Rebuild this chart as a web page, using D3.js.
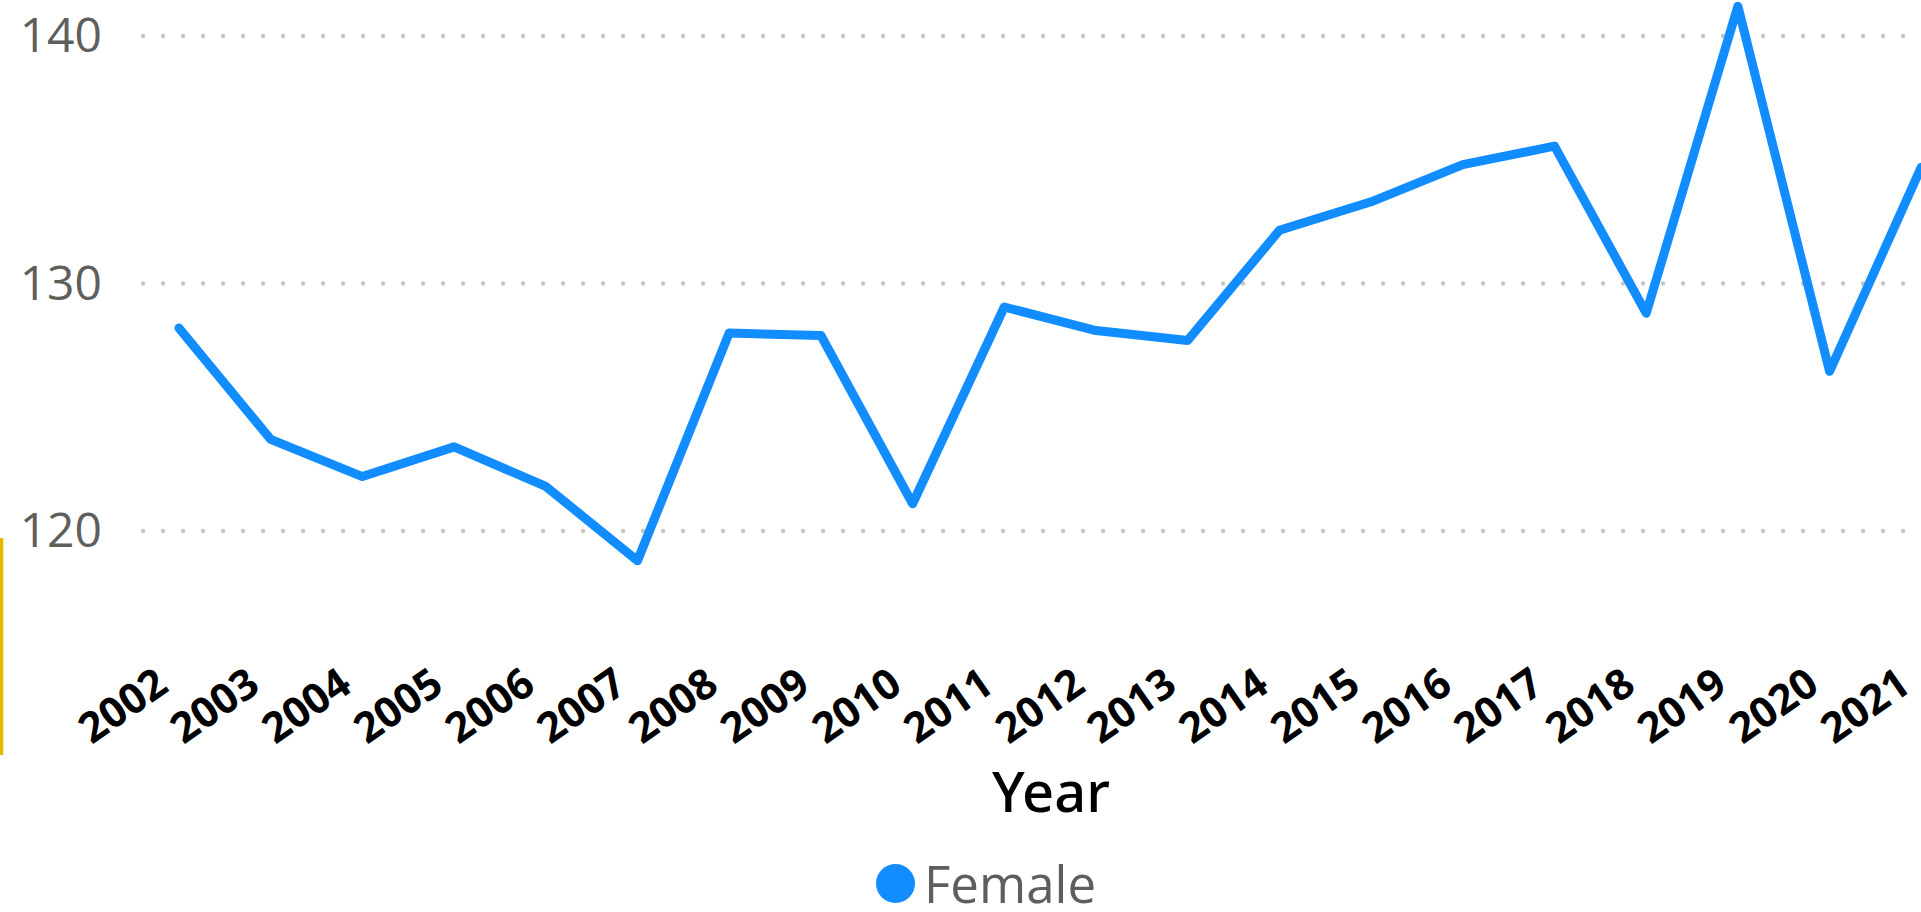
<!DOCTYPE html>
<html>
<head>
<meta charset="utf-8">
<script src="https://cdn.jsdelivr.net/npm/d3@7"></script>
<style>
  html, body { margin: 0; padding: 0; background: #fff; overflow: hidden; }
  svg { display: block; font-family: "Segoe UI", "Open Sans", sans-serif; }
</style>
</head>
<body>
<div id="chart"></div>
<script>
// data
const years = [2002, 2003, 2004, 2005, 2006, 2007, 2008, 2009, 2010, 2011,
  2012, 2013, 2014, 2015, 2016, 2017, 2018, 2019, 2020, 2021];
const female = [128.2, 123.7, 122.2, 123.4, 121.8, 118.8, 128.0, 127.9, 121.1, 129.05,
  128.1, 127.7, 132.15, 133.3, 134.8, 135.55, 128.8, 141.2, 126.45, 134.7];
const yTicks = [120, 130, 140];
const seriesName = "Female";
const xTitle = "Year";

const W = 1921, H = 912;
const blue = "#118DFF";

const svg = d3
  .select("#chart")
  .append("svg")
  .attr("width", W)
  .attr("height", H);

// scales
const x = d3.scalePoint().domain(years).range([179, 1921.3]).padding(0);
const y = d3.scaleLinear().domain([115, 142]).range([654.75, -13.5]);

// left yellow marker
svg
  .append("rect")
  .attr("x", 0)
  .attr("y", 538)
  .attr("width", 3.3)
  .attr("height", 217)
  .attr("fill", "#E6B800");

// dotted gridlines
svg
  .append("g")
  .selectAll("line")
  .data(yTicks)
  .join("line")
  .attr("x1", 143)
  .attr("x2", 1906)
  .attr("y1", (d) => y(d))
  .attr("y2", (d) => y(d))
  .attr("stroke", "#C8C6C4")
  .attr("stroke-width", 4.5)
  .attr("stroke-linecap", "round")
  .attr("stroke-dasharray", "0 20");

// y axis labels
const yAxis = svg
  .append("g")
  .attr("transform", "translate(102,0)")
  .call(d3.axisLeft(y).tickValues(yTicks).tickSize(0).tickPadding(0));
yAxis.select(".domain").remove();
yAxis
  .selectAll("text")
  .attr("x", 0)
  .attr("dy", "0")
  .attr("y", 15.5)
  .attr("fill", "#605E5C")
  .attr("font-size", 48)
  .attr("font-family", '"Segoe UI", "Open Sans", sans-serif');

// x axis labels
const xAxis = svg
  .append("g")
  .attr("transform", "translate(0,690)")
  .call(d3.axisBottom(x).tickSize(0).tickPadding(0));
xAxis.select(".domain").remove();
xAxis
  .selectAll("text")
  .attr("x", 0)
  .attr("y", 0)
  .attr("dy", "0")
  .attr("text-anchor", "end")
  .attr("transform", "translate(-9,0) rotate(-35)")
  .attr("fill", "#000")
  .attr("font-weight", "bold")
  .attr("font-size", 42)
  .attr("font-family", '"Segoe UI", "Open Sans", sans-serif');

// axis title
svg
  .append("text")
  .attr("x", 1051)
  .attr("y", 811.5)
  .attr("text-anchor", "middle")
  .attr("fill", "#000")
  .attr("font-family", '"Noto Sans", "Open Sans", sans-serif')
  .attr("font-weight", 500)
  .attr("font-size", 56)
  .text(xTitle);

// line
const line = d3
  .line()
  .x((d, i) => x(years[i]))
  .y((d) => y(d));

svg
  .append("path")
  .datum(female)
  .attr("d", line)
  .attr("fill", "none")
  .attr("stroke", blue)
  .attr("stroke-width", 9)
  .attr("stroke-linejoin", "round")
  .attr("stroke-linecap", "round");

// legend
const legend = svg.append("g");
legend
  .append("circle")
  .attr("cx", 895.5)
  .attr("cy", 883.5)
  .attr("r", 19.5)
  .attr("fill", blue);
legend
  .append("text")
  .attr("x", 924)
  .attr("y", 903)
  .attr("fill", "#605E5C")
  .attr("font-size", 51)
  .text(seriesName);
</script>
</body>
</html>
